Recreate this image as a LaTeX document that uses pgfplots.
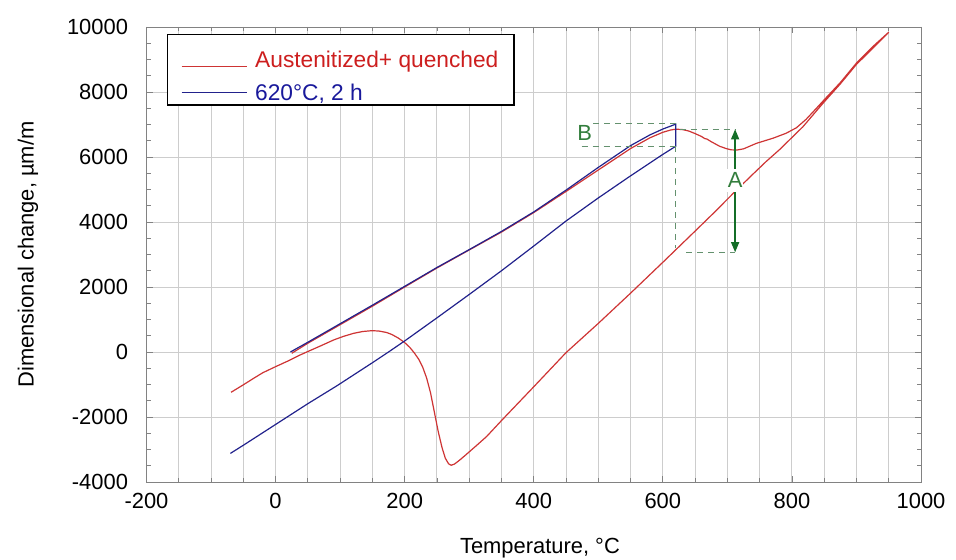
\documentclass[border=0pt]{standalone}
\usepackage{pgfplots}
\pgfplotsset{compat=1.18}
\usepackage{fontspec}
\setmainfont{Liberation Sans}
\usetikzlibrary{arrows.meta}
\definecolor{redc}{RGB}{206,52,52}
\definecolor{bluec}{RGB}{34,34,140}
\definecolor{redt}{RGB}{205,30,30}
\definecolor{bluet}{RGB}{25,25,155}
\definecolor{gridc}{RGB}{205,205,205}
\definecolor{axc}{RGB}{130,130,130}
\definecolor{grn}{RGB}{20,110,40}
\definecolor{grnd}{RGB}{100,145,110}
\definecolor{grnl}{RGB}{50,125,60}

\begin{document}
\begin{tikzpicture}[x=1bp,y=1bp]
\path (0,0) rectangle (956,560);
\begin{axis}[
  at={(146.5bp,78bp)}, anchor=south west,
  scale only axis, width=774.5bp, height=455bp,
  xmin=-200, xmax=1000, ymin=-4000, ymax=10000,
  scaled y ticks=false, scaled x ticks=false,
  xtick={-200,0,...,1000},
  minor xtick={-150,-100,...,950},
  ytick={-4000,-2000,...,10000},
  minor ytick={-3500,-3000,...,9500},
  xmajorgrids, ymajorgrids, xminorgrids,
  major grid style={gridc, line width=0.9bp},
  minor grid style={gridc, line width=0.9bp},
  tick align=inside,
  major tick length=6bp, minor tick length=4bp,
  every tick/.style={axc, line width=0.8bp},
  axis line style={axc, line width=0.9bp},
  /pgf/number format/assume math mode=true,
  /pgf/number format/1000 sep={},
  ticklabel style={font=\fontsize{22}{26}\selectfont},
  yticklabel style={xshift=-15bp},
  xticklabel style={yshift=-8bp},
  xlabel={Temperature, °C},
  ylabel={Dimensional change, µm/m},
  label style={font=\fontsize{22}{26}\selectfont},
  xlabel style={at={(axis description cs:0.508,-0.145)}, anchor=center},
  ylabel style={at={(axis description cs:-0.153,0.5)}, anchor=center},
  legend cell align=left,
  legend style={at={(axis description cs:0.026,0.985)}, anchor=north west,
    draw=black, line width=1.6bp, fill=white,
    font=\fontsize{22.8}{26}\selectfont,
    inner xsep=13.5bp, inner ysep=1.5bp, row sep=11bp, column sep=6bp,
    nodes={inner sep=2bp}},
]
% Austenitized + quenched: heating then cooling
\addplot[redc, line width=1.2bp,
  legend image code/.code={\draw[redc, line width=1.3bp] (0bp,-13.4bp) -- (65bp,-13.4bp);}] coordinates {
(25,-40) (50,270) (100,840) (150,1410) (200,2000) (250,2585) (300,3140)
(350,3690) (400,4290) (450,4940) (500,5600) (550,6260) (580,6590) (600,6760)
(612,6830) (620,6855) (630,6845) (640,6800) (650,6720) (660,6630) (665,6565)
(668,6555) (675,6470) (688,6330) (698,6260) (706,6220) (715,6215) (725,6250)
(745,6420) (771,6580) (791,6730) (807,6900) (822,7160) (838,7500) (850,7760)
(875,8290) (900,8890) (925,9390) (950,9840)
(925,9340) (900,8850) (875,8250) (848,7650) (817,6930) (800,6600) (781,6230)
(760,5860) (740,5480) (712,4940) (680,4300) (650,3720) (600,2760) (550,1810)
(500,880) (450,-20) (400,-1070) (350,-2110) (327,-2600) (310,-2900) (295,-3160)
(285,-3330) (277,-3450) (272,-3485) (268,-3440) (263,-3270) (258,-2950)
(252,-2450) (246,-1850) (240,-1250) (234,-800) (228,-470) (222,-230) (215,-30)
(208,140) (200,290) (190,430) (180,540) (172,600) (160,645) (149,656) (135,630)
(121,575) (105,480) (90,370) (70,190) (50,15) (38,-92) (20,-270) (0,-451)
(-20,-640) (-34,-810) (-50,-1010) (-69,-1240)
};
\addlegendentry{\textcolor{redt}{\rule{0pt}{29bp}Austenitized+ quenched}}
% 620 C, 2 h: heating, hold, cooling
\addplot[bluec, line width=1.2bp,
  legend image code/.code={\draw[bluec, line width=1.3bp] (0bp,0bp) -- (65bp,0bp);}] coordinates {
(-70,-3120) (-50,-2870) (0,-2230) (50,-1590) (95,-1040) (150,-330) (175,0)
(200,340) (250,1050) (300,1770) (350,2500) (400,3260) (450,4030) (500,4740)
(550,5420) (600,6080) (620,6330)
(620,7010) (600,6860) (580,6680) (550,6350) (500,5680) (450,4980) (400,4310)
(350,3710) (300,3150) (250,2600) (200,2020) (150,1440) (100,870) (50,300)
(23,0)
};
\addlegendentry{\textcolor{bluet}{\rule[-4bp]{0pt}{4bp}620°C, 2 h}}
% annotations
\draw[grnd, line width=1bp, dash pattern=on 6bp off 5bp] (axis cs:492,7036) -- (axis cs:620,7036);
\draw[grnd, line width=1bp, dash pattern=on 6bp off 5bp] (axis cs:474,6338) -- (axis cs:620,6338);
\draw[grnd, line width=1bp, dash pattern=on 6bp off 5bp] (axis cs:620,6338) -- (axis cs:620,3200);
\draw[grnd, line width=1bp, dash pattern=on 6bp off 5bp] (axis cs:636,3070) -- (axis cs:712,3070);
\draw[grnd, line width=1bp, dash pattern=on 6bp off 5bp] (axis cs:626,6852) -- (axis cs:712,6852);
\draw[grn, line width=1.3bp, {Triangle[width=8bp,length=10bp]}-{Triangle[width=8bp,length=10bp]}] (axis cs:712,6852) -- (axis cs:712,3070);
\node[fill=white, inner xsep=1bp, inner ysep=4bp, text=grnl, font=\fontsize{22}{26}\selectfont] at (axis cs:712,5280) {A};
\node[text=grnl, font=\fontsize{22}{26}\selectfont] at (axis cs:479,6729) {B};
\end{axis}
\pgfresetboundingbox
\path (0,0) rectangle (956,560);
\end{tikzpicture}
\end{document}
